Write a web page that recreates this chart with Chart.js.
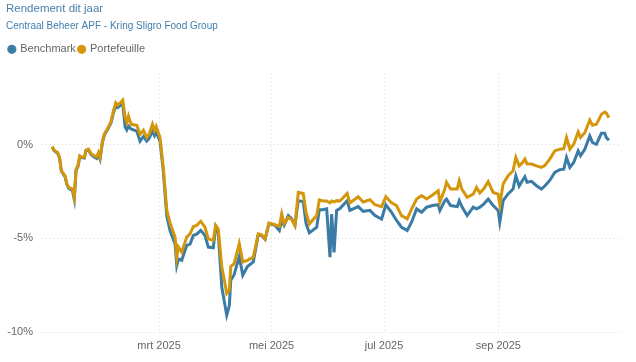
<!DOCTYPE html>
<html>
<head>
<meta charset="utf-8">
<script src="https://cdn.jsdelivr.net/npm/chart.js@4.4.1/dist/chart.umd.min.js"></script>
<style>
  html, body { margin: 0; padding: 0; background: #fff; }
  #wrap { width: 636px; height: 362px; }
</style>
</head>
<body>
<div id="wrap"><canvas id="grafiek"></canvas></div>
<script>
// dag van het jaar, 0 = 1 jan 2025
const dagen = [
  1, 2, 4, 5, 6, 8, 9, 10, 12, 13,
  14, 15, 16, 17, 18.5, 19.3, 20.7, 22.1, 23.9, 25.2,
  26.1, 27, 28.3, 29.4, 31.2, 33, 34.2, 35.5, 36.6, 37.9,
  39.3, 40.6, 41.5, 42.4, 43.8, 46.9, 48.7, 50.5, 52.3, 53.6,
  55.4, 56.5, 57.4, 59.5, 61.3, 62.3, 63.2, 65, 67.7, 68.6,
  69.5, 71.3, 74, 75.8, 77.6, 79.4, 81.6, 83.9, 85.7, 88.4,
  89.7, 91.1, 93, 95.7, 97.1, 97.9, 99.7, 102.5, 104.4, 106.9,
  110.1, 112.8, 114.7, 116.5, 118.6, 121.9, 124.2, 125.5, 126.8, 129.1,
  131, 132.7, 134.5, 137.2, 138.7, 140.5, 144.5, 145.9, 147.7, 149.9,
  151.7, 152.6, 153.9, 155.3, 157.1, 161, 162.5, 167, 169.7, 173.4,
  176.1, 179.7, 182, 185.1, 187.8, 190.5, 193.6, 196, 198.7, 201.4,
  204.1, 207.3, 210.4, 211.3, 214, 214.9, 217.1, 220.7, 221.8, 223.2,
  226.1, 229.4, 231.2, 233, 235.2, 237.5, 240.2, 242.9, 243.8, 245.6,
  248.3, 251, 252.5, 254.3, 256.1, 257.4, 258.6, 261, 263.7, 266.4,
  268.2, 270.9, 273.6, 276.3, 278.5, 280, 281.8, 283.9, 286.3, 287.6,
  289.9, 292.6, 294.1, 296.2, 298.9, 300.7, 301.6, 303
];

const benchmark = [
  -0.1, -0.3, -0.45, -0.7, -1.4, -1.7, -2.12, -2.32, -2.45, -2.9,
  -1.35, -1.15, -0.62, -0.68, -0.7, -0.32, -0.27, -0.52, -0.66, -0.72,
  -0.5, -0.75, 0.15, 0.55, 0.83, 1.2, 1.7, 2.1, 2.0, 2.1,
  2.2, 0.95, 0.8, 1.0, 0.85, 0.74, 0.2, 0.45, 0.2, 0.35,
  0.75, 0.5, 0.7, 0.2, -1.4, -2.7, -3.8, -4.6, -5.3, -6.44,
  -6.1, -6.17, -5.37, -5.3, -4.84, -4.77, -4.57, -4.84, -5.46, -5.5,
  -4.4, -4.7, -7.6, -9.1, -8.6, -7.23, -6.94, -5.96, -6.97, -6.5,
  -6.26, -4.8, -4.85, -5.05, -4.2, -4.3, -4.57, -4.04, -4.3, -3.78,
  -3.95, -4.3, -2.98, -3.03, -4.2, -4.7, -4.4, -3.47, -3.47, -3.42,
  -6.0, -3.7, -5.75, -3.5, -3.4, -2.98, -3.5, -3.3, -3.55, -3.5,
  -3.78, -3.97, -3.2, -3.6, -4.04, -4.4, -4.57, -4.12, -3.42, -3.6,
  -3.33, -3.24, -3.2, -3.5, -2.98, -2.9, -3.24, -3.3, -2.98, -3.3,
  -3.78, -3.33, -3.42, -3.33, -3.15, -2.9, -3.24, -3.5, -4.12, -2.98,
  -2.62, -2.36, -1.65, -2.2, -1.9, -1.7, -2.0, -1.95, -2.18, -2.36,
  -2.2, -1.9, -1.47, -1.33, -1.3, -0.67, -1.2, -0.94, -0.32, -0.58,
  -0.23, 0.48, 0.12, 0.03, 0.62, 0.62, 0.39, 0.25
];

const portefeuille = [
  -0.1, -0.28, -0.41, -0.67, -1.38, -1.65, -2.09, -2.27, -2.36, -2.8,
  -1.29, -1.12, -0.59, -0.64, -0.66, -0.28, -0.23, -0.46, -0.59, -0.64,
  -0.41, -0.67, 0.21, 0.6, 0.89, 1.28, 1.81, 2.25, 2.13, 2.25,
  2.39, 1.45, 1.2, 1.54, 1.1, 1.05, 0.57, 0.78, 0.39, 0.57,
  1.1, 0.78, 0.99, 0.39, -1.2, -2.45, -3.5, -4.2, -4.93, -6.0,
  -5.46, -5.73, -4.93, -4.75, -4.36, -4.3, -4.08, -4.4, -5.02, -5.1,
  -4.3, -4.5, -6.5, -7.94, -7.77, -6.5, -6.35, -5.28, -6.26, -6.17,
  -6.0, -4.75, -4.8, -5.02, -4.18, -4.27, -4.36, -3.69, -4.22, -3.87,
  -4.0, -4.3, -2.54, -2.6, -3.6, -4.22, -3.78, -2.94, -3.0, -3.0,
  -3.1, -3.0, -3.05, -2.98, -3.0, -2.59, -3.1, -2.77, -3.05, -2.93,
  -3.2, -3.3, -2.77, -3.1, -3.24, -3.78, -3.95, -3.42, -2.89, -2.71,
  -2.89, -2.68, -2.45, -3.06, -2.36, -2.0, -2.36, -2.36, -1.91, -2.36,
  -2.8, -2.63, -2.27, -2.57, -2.33, -1.96, -2.54, -2.63, -3.2, -2.09,
  -1.65, -1.38, -0.67, -1.12, -0.95, -0.76, -1.02, -1.02, -1.12, -1.2,
  -1.1, -0.76, -0.32, -0.23, -0.2, 0.39, -0.23, 0.04, 0.69, 0.4,
  0.65, 1.33, 1.05, 1.1, 1.63, 1.76, 1.7, 1.45
];

// x-as: eerste dag van mrt, mei, jul, sep
const tickDagen = [59, 120, 181, 243];
const tickLabels = ['mrt 2025', 'mei 2025', 'jul 2025', 'sep 2025'];
const yTicks = [-10, -5, 0];

const blauw = '#3a7ca5';
const oranje = '#d4960b';
const font = "'Liberation Sans', Arial, sans-serif";

function punten(waarden) {
  return dagen.map((d, i) => ({ x: d, y: waarden[i] }));
}

// wat extra ruimte onder de legenda
const legendaRuimte = {
  id: 'legendaRuimte',
  beforeInit(chart) {
    const fit = chart.legend.fit;
    chart.legend.fit = function () {
      fit.call(this);
      this.height += 9;
    };
  }
};

new Chart(document.getElementById('grafiek'), {
  type: 'line',
  data: {
    datasets: [
      { label: 'Benchmark', data: punten(benchmark), borderColor: blauw, backgroundColor: blauw, order: 1 },
      { label: 'Portefeuille', data: punten(portefeuille), borderColor: oranje, backgroundColor: oranje, order: 0 }
    ]
  },
  plugins: [legendaRuimte],
  options: {
    responsive: true,
    maintainAspectRatio: false,
    animation: false,
    layout: { padding: { left: 6, right: 16, top: 0, bottom: 0 } },
    elements: {
      line: { borderWidth: 3, tension: 0 },
      point: { radius: 0 }
    },
    plugins: {
      title: {
        display: true,
        text: 'Rendement dit jaar',
        align: 'start',
        color: '#4a80aa',
        font: { family: font, size: 11.5, weight: 'normal' },
        padding: { top: 2, bottom: 4 }
      },
      subtitle: {
        display: true,
        text: 'Centraal Beheer APF - Kring Sligro Food Group',
        align: 'start',
        color: '#3f7fae',
        font: { family: font, size: 10 },
        padding: { top: 0, bottom: 9 }
      },
      legend: {
        align: 'start',
        labels: {
          usePointStyle: true,
          pointStyle: 'circle',
          boxWidth: 5.7,
          boxHeight: 5.7,
          padding: 3,
          color: '#666',
          font: { family: font, size: 11 },
          sort: (a, b) => a.datasetIndex - b.datasetIndex
        }
      },
      tooltip: { enabled: false }
    },
    scales: {
      x: {
        type: 'linear',
        min: -4.5,
        max: 309,
        afterBuildTicks: s => { s.ticks = tickDagen.map(v => ({ value: v })); },
        afterFit: s => { s.height = 30; },
        ticks: {
          callback: v => tickLabels[tickDagen.indexOf(v)],
          color: '#666',
          font: { family: font, size: 11 },
          padding: 7,
          maxRotation: 0
        },
        grid: { color: '#d6d6d6', drawTicks: false },
        border: { display: false, dash: [1, 3] }
      },
      y: {
        min: -10,
        max: 3.8,
        afterBuildTicks: s => { s.ticks = yTicks.map(v => ({ value: v })); },
        afterFit: s => { s.width = 36; },
        ticks: {
          callback: v => v + '%',
          color: '#666',
          font: { family: font, size: 11 },
          padding: 9
        },
        grid: { color: '#d6d6d6', drawTicks: false },
        border: { display: false, dash: [1, 3] }
      }
    }
  }
});
</script>
</body>
</html>
